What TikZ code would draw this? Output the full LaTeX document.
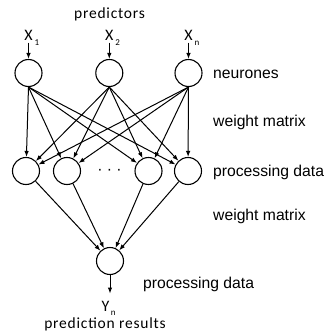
\documentclass[tikz,border=0pt]{standalone}
\usepackage{fontspec}
\setmainfont{Liberation Sans}
\newfontfamily\headfont[LetterSpace=5]{Carlito}
\newfontfamily\varfont{Carlito}
\usetikzlibrary{arrows.meta}

\begin{document}
\begin{tikzpicture}[
  x=1pt, y=-1pt,
  neuron/.style={draw, circle, line width=1.1pt, minimum size=27pt, inner sep=0pt},
  link/.style={line width=1pt, -{Latex[length=6pt,width=4.5pt]}},
  side/.style={anchor=base west, inner sep=0pt, font=\fontsize{15.7}{18}\selectfont},
  head/.style={anchor=base, inner sep=0pt, font=\headfont\fontsize{15.5}{18}\selectfont},
  var/.style={anchor=base, inner sep=0pt, font=\varfont\fontsize{16}{19}\selectfont},
  sub/.style={anchor=base west, inner sep=0pt, font=\varfont\fontsize{9}{11}\selectfont},
]
\useasboundingbox (0,0) rectangle (326,331);

\node[head] (predictors) at (109.5,19) {predictors};

% input layer
\foreach \x/\s [count=\i] in {28.5/1, 109.3/2, 188.5/n} {
  \node[neuron] (t\i) at (\x,73) {};
  \node[var] (x\i) at (\x,41) {X};
  \node[sub] (s\i) at ([xshift=1.5pt,yshift=-5pt]x\i.base east) {\s};
  \draw[link, shorten <=1.5pt] (x\i) -- (t\i);
}

% hidden layer
\foreach \x [count=\i] in {26, 67, 148.5, 188}
  \node[neuron] (m\i) at (\x,171) {};
\node[side, anchor=center] (dots) at (109.5,172) {· · ·};

\foreach \i in {1,2,3}
  \foreach \j in {1,2,3,4}
    \draw[link] (t\i.south) -- (m\j);

% output layer
\node[neuron] (out) at (110,261) {};
\foreach \j in {1,2,3,4}
  \draw[link] (m\j) -- (out);

\node[var] (y) at (105.5,311) {Y};
\node[sub] (yn) at ([xshift=1pt,yshift=-4pt]y.base east) {n};
\draw[link] (out.south) -- ([yshift=7pt]out.south |- y.north);
\node[head] (results) at (105,328) {prediction results};

% layer labels
\node[side] (lneur) at (213,79) {neurones};
\node[side] (lw1) at (213,127) {weight matrix};
\node[side] (lp1) at (213,176) {processing data};
\node[side] (lw2) at (213,220) {weight matrix};
\node[side] (lp2) at (143,288) {processing data};
\end{tikzpicture}
\end{document}
